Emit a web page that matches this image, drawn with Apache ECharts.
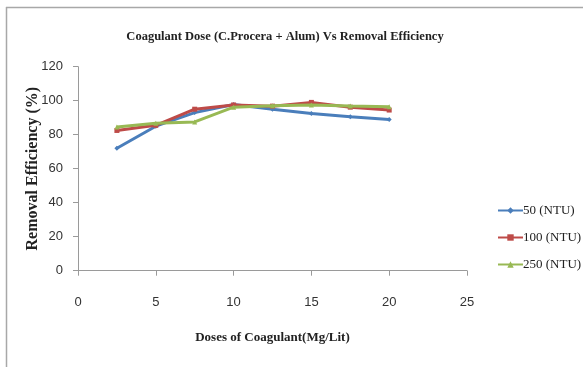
<!DOCTYPE html>
<html>
<head>
<meta charset="utf-8">
<script src="https://cdn.jsdelivr.net/npm/echarts@6/dist/echarts.min.js"></script>
<style>
  html, body { margin: 0; padding: 0; background: #fff; }
  #chart { width: 583px; height: 367px; }
</style>
</head>
<body>
<div id="chart"></div>
<script>
// Coagulant doses (Mg/Lit)
const doses = [2.5, 5, 7.5, 10, 12.5, 15, 17.5, 20];
// Removal efficiency (%) per initial turbidity
const ntu50 = [72, 85, 93, 97.8, 95, 92.5, 90.6, 89];
const ntu100 = [82.5, 85.5, 95, 97.5, 96.8, 99, 96.2, 94.5];
const ntu250 = [84.5, 86.8, 87.5, 96.2, 97, 97.5, 96.9, 96.5];
const seriesNames = ['50 (NTU)', '100 (NTU)', '250 (NTU)'];
const xTicks = [0, 5, 10, 15, 20, 25];
const yTicks = [0, 20, 40, 60, 80, 100, 120];

const colors = ['#4a7ebb', '#be4b48', '#98b954'];
const symbols = ['diamond', 'rect', 'triangle'];
const serif = '"Liberation Serif", "DejaVu Serif", serif';
const sans = '"Liberation Sans", Arial, sans-serif';

const chart = echarts.init(document.getElementById('chart'));

function mkSeries(name, vals, i) {
  return {
    name: name,
    type: 'line',
    data: doses.map((d, k) => [d, vals[k]]),
    symbol: symbols[i],
    symbolSize: 5,
    lineStyle: { color: colors[i], width: 3 },
    itemStyle: { color: colors[i] },
    z: 2 + i
  };
}

chart.setOption({
  animation: false,
  backgroundColor: '#fff',
  title: {
    text: 'Coagulant Dose (C.Procera + Alum) Vs Removal Efficiency',
    left: 280, top: 25, textAlign: 'center',
    textStyle: { fontFamily: serif, fontSize: 12.5, fontWeight: 'bold', color: '#222' }
  },
  legend: {
    orient: 'vertical', left: 492, top: 199, itemGap: 14,
    itemWidth: 25, itemHeight: 8,
    data: seriesNames,
    textStyle: { fontFamily: serif, fontSize: 13, color: '#222', padding: [0, 0, 0, -5] }
  },
  grid: { left: 78, top: 66.7, width: 389, height: 204, containLabel: false },
  xAxis: {
    type: 'value', min: xTicks[0], max: xTicks[xTicks.length - 1], interval: 5,
    name: 'Doses of Coagulant(Mg/Lit)', nameLocation: 'middle', nameGap: 60,
    nameMoveOverlap: false,
    nameTextStyle: { fontFamily: serif, fontSize: 13, fontWeight: 'bold', color: '#222' },
    axisLine: { lineStyle: { color: '#9a9a9a' } },
    axisTick: { show: true, length: 5, lineStyle: { color: '#9a9a9a' } },
    axisLabel: { fontFamily: sans, fontSize: 13, color: '#333', margin: 25 },
    splitLine: { show: false }
  },
  yAxis: {
    type: 'value', min: yTicks[0], max: yTicks[yTicks.length - 1], interval: 20,
    name: 'Removal Efficiency (%)', nameLocation: 'middle', nameGap: 37,
    nameMoveOverlap: false,
    nameTextStyle: { fontFamily: serif, fontSize: 16, fontWeight: 'bold', color: '#222' },
    axisLine: { show: true, lineStyle: { color: '#9a9a9a' } },
    axisTick: { show: true, length: 5, lineStyle: { color: '#9a9a9a' } },
    axisLabel: { fontFamily: sans, fontSize: 13, color: '#333', margin: 15 },
    splitLine: { show: false }
  },
  graphic: [
    { type: 'line', shape: { x1: 6, y1: 7.5, x2: 583, y2: 7.5 }, style: { stroke: '#a8a8a8', lineWidth: 1.5 } },
    { type: 'line', shape: { x1: 6.5, y1: 7, x2: 6.5, y2: 367 }, style: { stroke: '#a8a8a8', lineWidth: 1.5 } }
  ],
  series: [
    mkSeries(seriesNames[0], ntu50, 0),
    mkSeries(seriesNames[1], ntu100, 1),
    mkSeries(seriesNames[2], ntu250, 2)
  ]
});
</script>
</body>
</html>
